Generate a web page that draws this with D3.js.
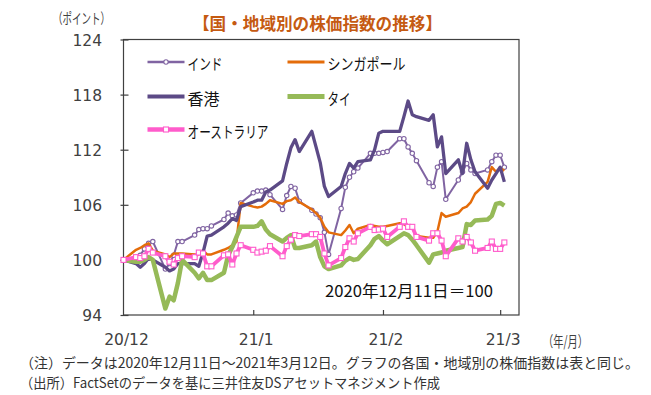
<!DOCTYPE html>
<html>
<head>
<meta charset="utf-8">
<script src="https://cdn.jsdelivr.net/npm/d3@7"></script>
<style>
body { margin: 0; background: #fff; }
svg { display: block; }
text { font-family: "Noto Sans CJK JP", "DejaVu Sans", sans-serif; }
.num { font-family: "DejaVu Sans", sans-serif; }
</style>
</head>
<body>
<svg id="chart" width="651" height="395"></svg>
<script>
// trading days, 2020/12/11 = 100
const dates = ['2020-12-11','2020-12-14','2020-12-15','2020-12-16','2020-12-17','2020-12-18','2020-12-21','2020-12-22','2020-12-23','2020-12-24','2020-12-25','2020-12-28','2020-12-29','2020-12-30','2020-12-31','2021-01-01','2021-01-04','2021-01-05','2021-01-06','2021-01-07','2021-01-08','2021-01-11','2021-01-12','2021-01-13','2021-01-14','2021-01-15','2021-01-18','2021-01-19','2021-01-20','2021-01-21','2021-01-22','2021-01-25','2021-01-26','2021-01-27','2021-01-28','2021-01-29','2021-02-01','2021-02-02','2021-02-03','2021-02-04','2021-02-05','2021-02-08','2021-02-09','2021-02-10','2021-02-11','2021-02-12','2021-02-15','2021-02-16','2021-02-17','2021-02-18','2021-02-19','2021-02-22','2021-02-23','2021-02-24','2021-02-25','2021-02-26','2021-03-01','2021-03-02','2021-03-03','2021-03-04','2021-03-05','2021-03-08','2021-03-09','2021-03-10','2021-03-11','2021-03-12'];

const india = [100, 100.3, 100.5, 101.2, 101.8, 102.0, 99.0, 99.6, 100.5, 102.0, 102.0,
  102.7, 103.3, 103.4, 103.4, 103.7, 104.4, 105.1, 104.8, 104.9, 106.2,
  107.3, 107.5, 107.5, 107.6, 107.1, 105.5, 107.0, 108.0, 107.8, 106.4,
  105.4, 105.0, 104.6, 103.0, 100.6, 105.6, 107.9, 109.0, 109.6, 110.0,
  111.6, 111.6, 111.6, 111.7, 111.8, 113.2, 113.2, 112.3, 111.6, 110.8,
  108.4, 108.0, 110.1, 110.7, 106.6, 108.7, 109.6, 110.5, 109.8, 109.4,
  109.8, 110.7, 111.4, 111.4, 110.1];

const singapore = [100, 101.1, 101.3, 101.6, 101.8, 101.0, 100.6, 100.3, 100.7, 100.7, 100.7,
  100.6, 100.6, 101.0, 100.6, 100.6, 101.1, 101.3, 101.6, 102.0, 106.2,
  105.8, 105.7, 105.8, 106.1, 106.5, 106.1, 106.4, 106.5, 106.8, 106.3,
  105.5, 105.1, 104.6, 103.6, 103.0, 102.7, 103.2, 103.8, 102.9, 103.4,
  103.8, 103.7, 103.6, 103.6, 103.7, 104.0, 103.9, 103.6, 103.5, 102.6,
  102.4, 102.4, 103.1, 105.1, 104.7, 105.1, 105.6, 105.8, 106.3, 107.2,
  108.5, 110.1, 109.6, 110.0, 109.7];

const hongkong = [100, 99.6, 99.2, 99.6, 100.2, 100.0, 99.2, 98.8, 99.0, 99.6, 99.6,
  99.6, 99.3, 100.8, 102.6, 102.7, 103.6, 104.0, 104.5, 104.3, 105.8,
  106.3, 106.5, 106.5, 107.4, 107.6, 108.6, 110.5, 112.2, 113.1, 111.8,
  114.0, 112.3, 110.6, 108.0, 106.9, 108.0, 109.4, 110.5, 110.0, 110.7,
  110.9, 112.0, 113.8, 114.0, 114.0, 114.0, 115.6, 117.3, 115.8, 115.6,
  115.2, 115.8, 112.3, 113.4, 109.4, 110.9, 109.4, 112.7, 110.9, 109.6,
  107.8, 108.7, 109.4, 110.1, 108.5];

const thailand = [100, 99.8, 99.8, 100.0, 100.3, 100.0, 94.7, 96.0, 95.6, 97.5, 100.0,
  98.6, 98.0, 98.6, 97.8, 97.8, 98.6, 100.5, 101.4, 102.5, 103.6,
  103.6, 103.7, 104.2, 103.3, 102.8, 102.0, 102.4, 102.7, 101.3, 101.3,
  101.6, 102.0, 100.3, 99.3, 99.0, 99.4, 99.9, 100.2, 100.0, 100.1,
  101.6, 102.3, 102.6, 102.1, 101.7, 102.6, 102.9, 102.7, 102.2, 101.6,
  99.7, 100.6, 100.7, 100.8, 101.0, 101.3, 101.4, 103.9, 103.8, 104.3,
  104.4, 104.8, 106.1, 106.2, 105.9];

const australia = [100, 100.3, 100.2, 100.4, 101.2, 100.8, 100.4, 99.8, 99.5, 100.2, 100.4,
  100.3, 100.8, 100.7, 99.3, 99.3, 100.5, 100.6, 99.5, 100.7, 101.6,
  101.1, 100.8, 100.9, 101.0, 101.5, 100.4, 101.5, 102.2, 102.7, 102.6,
  102.8, 102.8, 102.5, 100.7, 99.4, 100.2, 101.4, 102.35, 102.0, 102.9,
  103.6, 103.25, 103.3, 103.4, 102.5, 103.6, 104.2, 103.6, 103.6, 102.5,
  102.1, 102.9, 102.9, 102.1, 100.4, 102.35, 102.0, 102.5, 101.9, 101.0,
  101.3, 102.0, 101.2, 101.2, 101.9];

const yTicks = [94, 100, 106, 112, 118, 124];
const xTickDates = ['2020-12-11', '2021-01-11', '2021-02-11', '2021-03-11'];
const xTickLabels = ['20/12', '21/1', '21/2', '21/3'];

const parse = d3.timeParse('%Y-%m-%d');
const svg = d3.select('#chart');
const plotLeft = 123.5, plotRight = 519, plotTop = 39.5, plotBottom = 315;

const x = d3.scaleTime()
  .domain([parse('2020-12-11'), new Date(2021, 2, 15, 12)])
  .range([plotLeft, plotRight]);
const y = d3.scaleLinear().domain([94, 124]).range([plotBottom, plotTop]);

// series, drawn in legend order (australia on top)
const series = [
  {name: 'インド', values: india, color: '#8064A2', width: 2, marker: 'circle', col: 0, row: 0, tl: 35},
  {name: 'シンガポール', values: singapore, color: '#E46C0A', width: 2.5, col: 1, row: 0, tl: 78},
  {name: '香港', values: hongkong, color: '#5C4A86', width: 3.3, col: 0, row: 1, tl: 32},
  {name: 'タイ', values: thailand, color: '#96BA58', width: 4.5, col: 1, row: 1, tl: 23},
  {name: 'オーストラリア', values: australia, color: '#FF5CCB', width: 3.8, marker: 'square', col: 0, row: 2, tl: 81}
];

function addText(s, x0, y0, opts) {
  const t = svg.append('text').attr('x', x0).attr('y', y0).text(s)
    .attr('dominant-baseline', 'central')
    .attr('font-size', opts.size || 14)
    .attr('fill', opts.fill || '#404040')
    .attr('text-anchor', opts.anchor || 'start');
  if (opts.len) t.attr('textLength', opts.len).attr('lengthAdjust', 'spacingAndGlyphs');
  if (opts.bold) t.attr('font-weight', 'bold');
  if (opts.cls) t.attr('class', opts.cls);
  return t;
}

// frame
svg.append('rect')
  .attr('x', plotLeft).attr('y', plotTop)
  .attr('width', plotRight - plotLeft).attr('height', plotBottom - plotTop)
  .attr('fill', 'none').attr('stroke', '#404040').attr('stroke-width', 1.2);

// y axis (ticks cross the axis line)
const yAxis = svg.append('g').attr('transform', `translate(${plotLeft - 3},0)`)
  .call(d3.axisRight(y).tickValues(yTicks).tickSize(8).tickFormat(''));
yAxis.select('.domain').remove();
yAxis.selectAll('line').attr('stroke', '#404040').attr('stroke-width', 1.2);
yTicks.forEach(v => addText(v, 102, y(v) + 1, {size: 15.5, anchor: 'end', cls: 'num'}));

// x axis
const xAxis = svg.append('g').attr('transform', `translate(0,${plotBottom})`)
  .call(d3.axisTop(x).tickValues(xTickDates.slice(1).map(parse)).tickSize(5).tickFormat(''));
xAxis.select('.domain').remove();
xAxis.selectAll('line').attr('stroke', '#404040').attr('stroke-width', 1.2);
xTickDates.forEach((d, i) => addText(xTickLabels[i], x(parse(d)) + 3, 340, {size: 15.5, anchor: 'middle', cls: 'num'}));
addText('（年/月）', 543, 340, {size: 15, len: 45});

// lines
const line = d3.line()
  .x((d, i) => x(parse(dates[i])))
  .y(d => y(d));

series.forEach(s => {
  svg.append('path')
    .datum(s.values)
    .attr('d', line)
    .attr('fill', 'none')
    .attr('stroke', s.color)
    .attr('stroke-width', s.width)
    .attr('stroke-linejoin', 'round');
  if (s.marker === 'circle') {
    svg.append('g').selectAll('circle').data(s.values).enter().append('circle')
      .attr('cx', (d, i) => x(parse(dates[i])))
      .attr('cy', d => y(d))
      .attr('r', 2.2)
      .attr('fill', '#fff').attr('stroke', s.color).attr('stroke-width', 1.1);
  }
  if (s.marker === 'square') {
    svg.append('g').selectAll('rect').data(s.values).enter().append('rect')
      .attr('x', (d, i) => x(parse(dates[i])) - 2.5)
      .attr('y', d => y(d) - 2.5)
      .attr('width', 5).attr('height', 5)
      .attr('fill', '#fff').attr('stroke', s.color).attr('stroke-width', 1.1);
  }
});

// legend
const legRows = [62, 96.5, 129.5], legCols = [147.5, 287.5];
series.forEach(s => {
  const lx = legCols[s.col], ly = legRows[s.row];
  svg.append('line')
    .attr('x1', lx).attr('x2', lx + 37).attr('y1', ly).attr('y2', ly)
    .attr('stroke', s.color).attr('stroke-width', s.width + 0.5);
  if (s.marker === 'circle') {
    svg.append('circle').attr('cx', lx + 18.5).attr('cy', ly).attr('r', 2.2)
      .attr('fill', '#fff').attr('stroke', s.color).attr('stroke-width', 1.1);
  }
  if (s.marker === 'square') {
    svg.append('rect').attr('x', lx + 16).attr('y', ly - 2.5).attr('width', 5).attr('height', 5)
      .attr('fill', '#fff').attr('stroke', s.color).attr('stroke-width', 1.1);
  }
  addText(s.name, lx + 40, ly + 1, {size: 15.5, fill: '#111', len: s.tl});
});

// titles and notes
addText('【国・地域別の株価指数の推移】', 317.5, 22, {size: 17, fill: '#C55A11', anchor: 'middle', bold: true, len: 249});
addText('（ポイント）', 53, 17, {size: 14.5, len: 57});
addText('2020年12月11日＝100', 325, 290, {size: 15.5, fill: '#111', len: 168});
addText('（注）データは2020年12月11日～2021年3月12日。グラフの各国・地域別の株価指数は表と同じ。', 20, 362, {size: 14, fill: '#333', len: 619});
addText('（出所）FactSetのデータを基に三井住友DSアセットマネジメント作成', 20, 382, {size: 14, fill: '#333', len: 420});
</script>
</body>
</html>
